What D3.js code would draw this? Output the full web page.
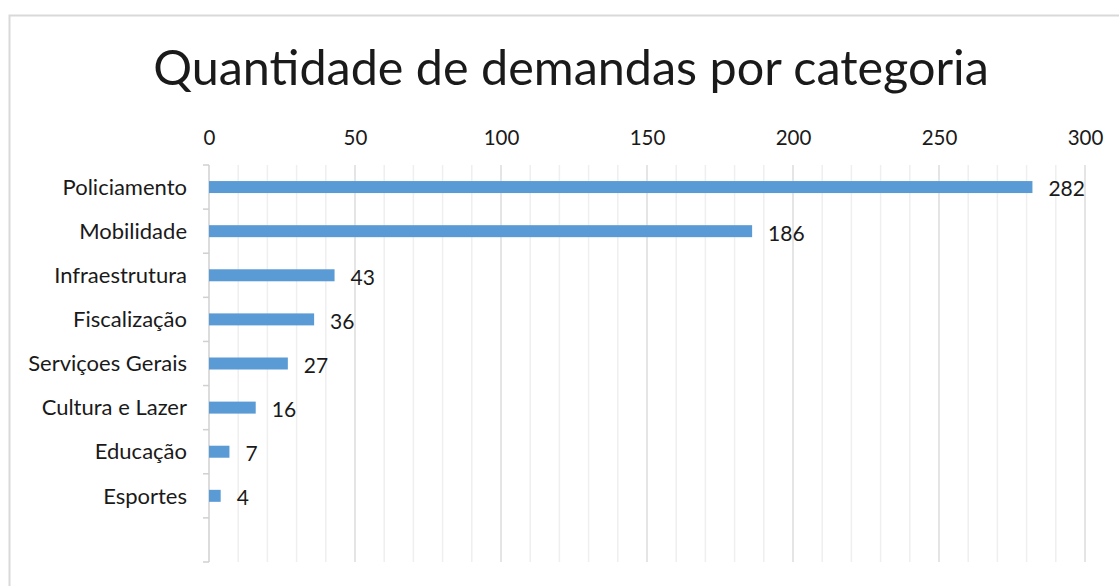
<!DOCTYPE html>
<html>
<head>
<meta charset="utf-8">
<script src="https://cdn.jsdelivr.net/npm/d3@7"></script>
<style>
  body { margin: 0; background: #fff; }
  svg text { font-family: Lato, "Open Sans", sans-serif; fill: #1a1a1a; }
</style>
</head>
<body>
<div id="chart"></div>
<script>
// Data
const categories = ["Policiamento", "Mobilidade", "Infraestrutura", "Fiscalização",
  "Serviçoes Gerais", "Cultura e Lazer", "Educação", "Esportes"];
const values = [282, 186, 43, 36, 27, 16, 7, 4];
const xTicks = [0, 50, 100, 150, 200, 250, 300];

const width = 1119, height = 586;
const margin = { top: 165, right: 34, bottom: 24, left: 209 };
const innerWidth = width - margin.left - margin.right;
const innerHeight = height - margin.top - margin.bottom;

const data = categories.map((c, i) => ({ category: c, value: values[i] }));

/*******************************/
/*    Append the containers    */
/*******************************/
const svg = d3.select("#chart")
  .append("svg")
    .attr("width", width)
    .attr("height", height);

// Chart frame (right and bottom edges fall outside the window)
svg.append("rect")
  .attr("x", 9.5).attr("y", 15.5)
  .attr("width", width + 20).attr("height", height + 20)
  .attr("fill", "none")
  .attr("stroke", "#d9d9d9")
  .attr("stroke-width", 2);

svg.append("text")
  .text("Quantidade de demandas por categoria")
  .attr("x", 571)
  .attr("y", 85)
  .attr("text-anchor", "middle")
  .style("font-size", "48.5px");

const innerChart = svg.append("g")
  .attr("transform", `translate(${margin.left}, ${margin.top})`);

/****************************/
/*    Declare the scales    */
/****************************/
const xScale = d3.scaleLinear()
  .domain([0, 300])
  .range([0, innerWidth]);

// one empty slot under the last category, as in the original
const yScale = d3.scaleBand()
  .domain([...categories, ""])
  .range([0, innerHeight]);

/***************************/
/*       Gridlines         */
/***************************/
innerChart.append("g")
  .selectAll("line")
  .data(d3.range(10, 301, 10).filter(v => v % 50 !== 0))
  .join("line")
    .attr("x1", d => xScale(d)).attr("x2", d => xScale(d))
    .attr("y1", 0).attr("y2", innerHeight)
    .attr("stroke", "#efefef")
    .attr("stroke-width", 1.5);

innerChart.append("g")
  .selectAll("line")
  .data(xTicks.slice(1))
  .join("line")
    .attr("x1", d => xScale(d)).attr("x2", d => xScale(d))
    .attr("y1", 0).attr("y2", innerHeight)
    .attr("stroke", "#dcdcdc")
    .attr("stroke-width", 1.5);

/***************************/
/*     Append the axes     */
/***************************/
const topAxis = d3.axisTop(xScale)
  .tickValues(xTicks)
  .tickSize(0)
  .tickPadding(20);
innerChart.append("g")
  .attr("class", "axis-x")
  .call(topAxis)
  .call(g => g.select(".domain").remove())
  .selectAll("text")
    .style("font-size", "20.5px")
    .attr("fill", "#1a1a1a");

// Left axis: tick marks at band boundaries
const leftAxis = innerChart.append("g").attr("class", "axis-y");
leftAxis.append("line")
  .attr("x1", 0).attr("x2", 0)
  .attr("y1", 0).attr("y2", innerHeight)
  .attr("stroke", "#d0d0d0")
  .attr("stroke-width", 1.5);
leftAxis.selectAll(".tick-mark")
  .data(yScale.domain().concat(["__end"]))
  .join("line")
    .attr("class", "tick-mark")
    .attr("x1", -6).attr("x2", 0)
    .attr("y1", (d, i) => i * yScale.step())
    .attr("y2", (d, i) => i * yScale.step())
    .attr("stroke", "#d0d0d0")
    .attr("stroke-width", 1.5);
leftAxis.selectAll(".cat-label")
  .data(categories)
  .join("text")
    .attr("class", "cat-label")
    .text(d => d)
    .attr("x", -22)
    .attr("y", d => yScale(d) + yScale.bandwidth() / 2)
    .attr("dy", "0.35em")
    .attr("text-anchor", "end")
    .style("font-size", "22px");

/******************************/
/*      Append the bars       */
/******************************/
const barH = 12;
innerChart.selectAll(".bar")
  .data(data)
  .join("rect")
    .attr("class", "bar")
    .attr("x", 0)
    .attr("y", d => yScale(d.category) + yScale.bandwidth() / 2 - barH / 2)
    .attr("width", d => xScale(d.value))
    .attr("height", barH)
    .attr("fill", "#5b9bd5");

innerChart.selectAll(".value-label")
  .data(data)
  .join("text")
    .attr("class", "value-label")
    .text(d => d.value)
    .attr("x", d => xScale(d.value) + 16)
    .attr("y", d => yScale(d.category) + yScale.bandwidth() / 2 + 2)
    .attr("dy", "0.35em")
    .style("font-size", "21px");
</script>
</body>
</html>
